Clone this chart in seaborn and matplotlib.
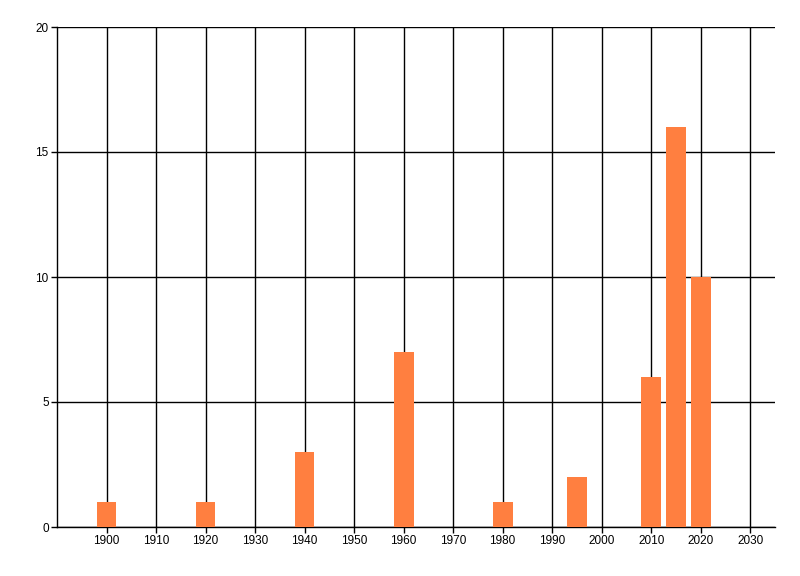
import pandas as pd
import matplotlib
matplotlib.use('Agg')
import matplotlib.pyplot as plt
import seaborn as sns

years = [1900, 1920, 1940, 1960, 1980, 1995, 2010, 2015, 2020]
counts = [1, 1, 3, 7, 1, 2, 6, 16, 10]
x_ticks = list(range(1900, 2031, 10))
y_ticks = [0, 5, 10, 15, 20]

sns.set_style('white')
plt.rcParams['font.family'] = ['Liberation Sans', 'DejaVu Sans']

df = pd.DataFrame({'year': years, 'count': counts})

fig = plt.figure(figsize=(8, 5.76), dpi=100)
ax = fig.add_axes([57 / 800, 1 - 527 / 576, (775 - 57) / 800, 500 / 576])

sns.barplot(data=df, x='year', y='count', native_scale=True, width=0.8,
            color='#ff7f40', saturation=1, linewidth=0, ax=ax)

ax.set_xlim(1890, 2035)
ax.set_ylim(0, 20)
ax.set_xticks(x_ticks)
ax.set_yticks(y_ticks)
ax.grid(True, color='black', linewidth=1)
ax.set_axisbelow(True)
for bar in ax.patches:
    bar.set_zorder(3)
    bar.set_edgecolor('none')

for side in ['top', 'right']:
    ax.spines[side].set_visible(False)
for side in ['left', 'bottom']:
    ax.spines[side].set_color('black')
    ax.spines[side].set_linewidth(1)

ax.tick_params(axis='both', which='both', length=4, width=1, color='black',
               labelsize=8.5, labelcolor='black', left=True, bottom=True, pad=2)
ax.set_xlabel('')
ax.set_ylabel('')

fig.savefig('out.png', dpi=100)
